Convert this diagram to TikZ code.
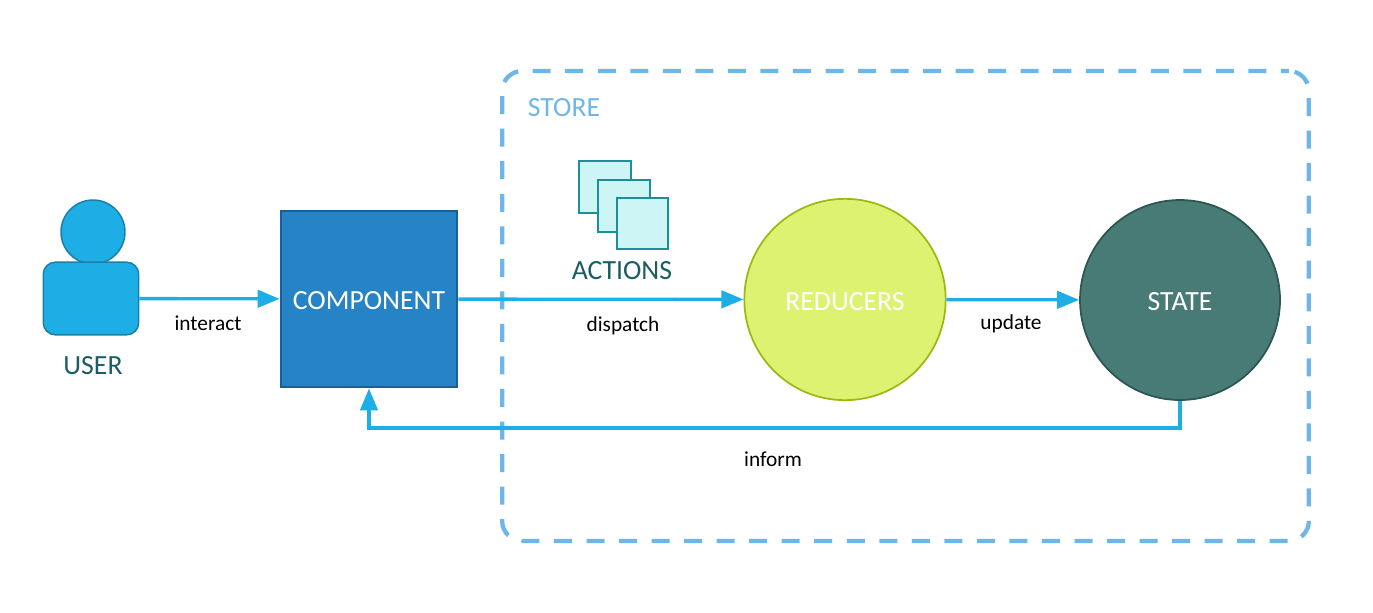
\documentclass[tikz,border=0pt]{standalone}
\usepackage{fontspec}
\setmainfont{Carlito}
\usetikzlibrary{arrows.meta}
\definecolor{flowblue}{HTML}{1EAEE6}
\definecolor{storeblue}{HTML}{6FB6E8}
\definecolor{userline}{HTML}{1A7FA8}
\definecolor{compfill}{HTML}{2683C6}
\definecolor{compline}{HTML}{1B5F97}
\definecolor{redfill}{HTML}{DEF272}
\definecolor{redline}{HTML}{9DB812}
\definecolor{statefill}{HTML}{487A76}
\definecolor{stateline}{HTML}{2D5652}
\definecolor{actfill}{HTML}{CEF5F6}
\definecolor{actline}{HTML}{1E8F98}
\definecolor{darktext}{HTML}{1A5E63}
\tikzset{
	flow/.style={draw=flowblue, line width=2.5pt, -{Triangle[length=16.5pt,width=13pt]}},
	label/.style={font=\fontsize{16}{19}\selectfont, text=black},
	title/.style={font=\fontsize{20.8}{24}\selectfont, text=white, text height=16pt},
	darktitle/.style={font=\fontsize{20.8}{24}\selectfont, text=darktext},
	actionbox/.style={rectangle, draw=actline, fill=actfill, line width=1.3pt, minimum size=38.5pt, inner sep=0pt}
}
\begin{document}
\begin{tikzpicture}[x=0.75pt, y=-0.75pt]
	\useasboundingbox (0,0) rectangle (1373,612);
	
	% Store
	\node (storebox) at (905.5,306) [rectangle, draw=storeblue, line width=3.2pt, rounded corners=15pt, dash pattern=on 13.5pt off 10.9pt, dash phase=7.6pt, minimum width=605pt, minimum height=352.5pt]{};
	\node (storelabel) at (564,108) [font=\fontsize{20.8}{24}\selectfont, text=storeblue]{STORE};
	
	% User
	\node (userhead) at (93,232) [circle, draw=userline, fill=flowblue, line width=1.1pt, minimum size=48pt, inner sep=0pt]{};
	\node (userbody) at (91,298.5) [rectangle, rounded corners=9pt, draw=userline, fill=flowblue, line width=1.1pt, minimum width=71.5pt, minimum height=54.5pt]{};
	\node (userlabel) at (93,366) [darktitle]{USER};
	
	% Main nodes
	\node (component) at (369,299) [rectangle, draw=compline, fill=compfill, line width=1.6pt, minimum size=132.5pt, inner sep=0pt, title]{COMPONENT};
	\node (reducers) at (845,299.5) [circle, draw=redline, fill=redfill, line width=1.3pt, minimum size=151pt, inner sep=0pt, title]{REDUCERS};
	\node (state) at (1180,300) [circle, draw=stateline, fill=statefill, line width=1.3pt, minimum size=150pt, inner sep=0pt, title]{STATE};
	
	% Actions
	\node (action1) at (605,187) [actionbox]{};
	\node (action2) at (624,206) [actionbox]{};
	\node (action3) at (642.5,223.5) [actionbox]{};
	\node (actionslabel) at (622,271) [darktitle]{ACTIONS};
	
	% Linking the nodes
	\draw[flow] (userbody) -- (component);
	\draw[flow] (component) -- (reducers);
	\draw[flow] (reducers) -- (state);
	\coordinate (informcorner) at (1180,428);
	\draw[flow] (state) -- (informcorner) -| (component);
	
	% Labels
	\node (interactlabel) at (208,323) [label]{interact};
	\node (dispatchlabel) at (623,326) [label]{dispatch};
	\node (updatelabel) at (1011,324) [label]{update};
	\node (informlabel) at (773,459) [label]{inform};
	
\end{tikzpicture}
\end{document}
